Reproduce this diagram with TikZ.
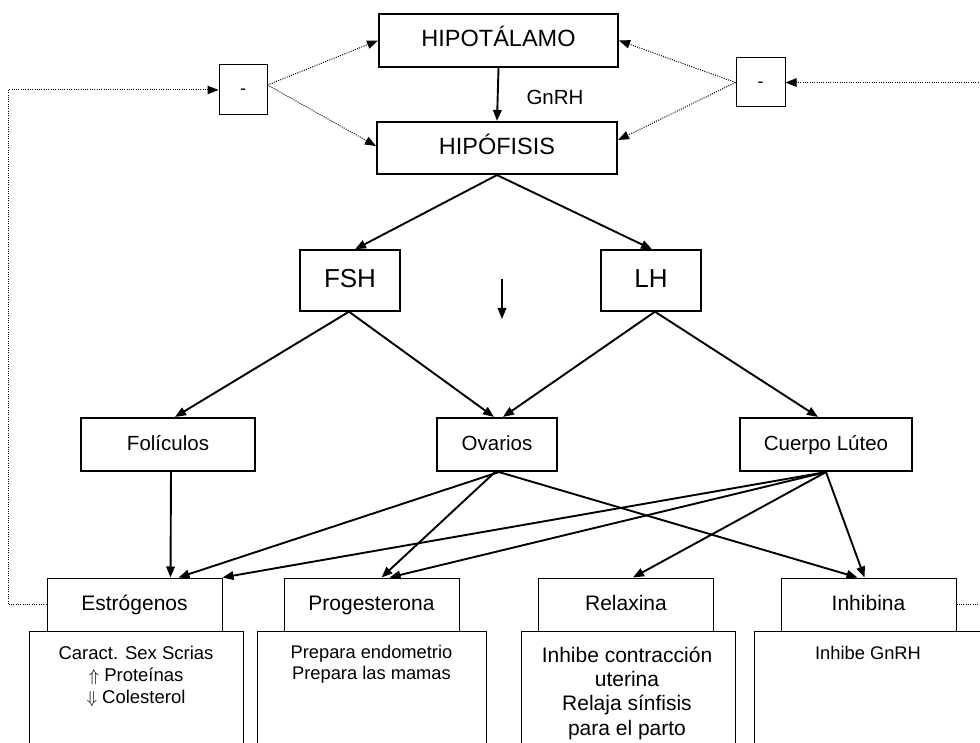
\documentclass[tikz,border=0pt]{standalone}
\usepackage{fontspec}
\setmainfont{Liberation Sans}
\usetikzlibrary{arrows.meta,calc}

\begin{document}
\begin{tikzpicture}[x=1pt,y=-1pt,
  sized/.style={font=\fontsize{#1}{#1}\selectfont,
    text height=0.75*#1pt, text depth=0.2*#1pt},
  organ/.style={draw, line width=2.1pt, inner sep=0pt, fill=white},
  hormbox/.style={draw, line width=1.4pt, inner sep=0pt, fill=white,
    minimum width=100pt, minimum height=61pt, sized=26},
  minusbox/.style={draw, line width=1pt, inner sep=0pt, fill=white, sized=18},
  outbox/.style={draw, line width=1pt, inner sep=0pt, fill=white,
    minimum width=175pt, minimum height=53pt, sized=21},
  fxbox/.style={draw, line width=1pt, inner sep=0pt, minimum height=140pt},
  fxtext/.style={inner sep=0pt, anchor=north, align=center},
  link/.style={line width=1.9pt, -{Triangle[length=11pt,width=8.5pt]}},
  fb/.style={line width=1pt, dash pattern=on 1pt off 1.3pt,
    -{Triangle[length=11pt,width=8.5pt]}},
  fbline/.style={line width=1pt, dash pattern=on 1pt off 1.3pt}
]
\useasboundingbox (0,0) rectangle (980,743);
\clip (0,0) rectangle (980,743);

% ---- axis: hypothalamus / pituitary
\node[organ, minimum width=239pt, minimum height=53pt, sized=23.5]
  (hipot) at (498.5,40.5) {HIPOTÁLAMO};
\node[organ, minimum width=240pt, minimum height=52pt, sized=23.5]
  (hipof) at (497,148) {HIPÓFISIS};
\node[sized=20.5, inner sep=0pt] (gnrh) at (555,99) {GnRH};

% ---- negative feedback boxes
\node[minusbox, minimum width=48pt, minimum height=50pt] (minusL) at (243,90) {-};
\node[minusbox, minimum width=49pt, minimum height=49pt] (minusR) at (760.5,82.5) {-};

% ---- gonadotropins
\node[hormbox] (fsh) at (350,280.5) {FSH};
\node[hormbox] (lh) at (651,280.5) {LH};

% ---- targets
\node[organ, minimum width=174pt, minimum height=53pt, sized=20.5]
  (foli) at (168,444.5) {Folículos};
\node[organ, minimum width=120pt, minimum height=53pt, sized=20.5]
  (ovar) at (497,444.5) {Ovarios};
\node[organ, minimum width=172pt, minimum height=53pt, sized=20.5]
  (cuer) at (826,444.5) {Cuerpo Lúteo};

% ---- effect panels (drawn first, titles sit on top)
\node[fxbox, minimum width=214pt] (estrfx) at (136,701) {};
\node[fxbox, minimum width=229pt] (progfx) at (371.5,701) {};
\node[fxbox, minimum width=214pt] (relafx) at (628,701) {};
\node[fxbox, minimum width=256pt] (inhifx) at (882,701) {};

\node[fxtext, font=\fontsize{18.5}{22.4}\selectfont] (estrtx) at (136,645.5)
  {Caract. Sex Scrias\\$\Uparrow$ Proteínas\\$\Downarrow$ Colesterol};
\node[fxtext, font=\fontsize{18.3}{20.7}\selectfont] (progtx) at (371.5,645.5)
  {Prepara endometrio\\Prepara las mamas};
\node[fxtext, font=\fontsize{21}{24.4}\selectfont] (relatx) at (627,646.5)
  {Inhibe contracción\\uterina\\Relaja sínfisis\\para el parto};
\node[fxtext, font=\fontsize{18.3}{22}\selectfont] (inhitx) at (868,646)
  {Inhibe GnRH};

% ---- hormones
\node[outbox] (estr) at (134.5,604.5) {Estrógenos};
\node[outbox] (prog) at (371.5,604.5) {Progesterona};
\node[outbox] (rela) at (626,604.5) {Relaxina};
\node[outbox] (inhi) at (868.5,604.5) {Inhibina};

% ---- solid connectors
\draw[link] (hipot.south) -- (hipof.north);
\draw[link] (hipof.south) -- ($(fsh.north)+(5,0)$);
\draw[link] (hipof.south) -- ($(lh.north)+(1,0)$);
\coordinate (dn1) at (502,279);
\coordinate (dn2) at (502,319);
\draw[link] (dn1) -- (dn2);
\draw[link] ($(fsh.south)+(-1,0)$) -- ($(foli.north)+(7,0)$);
\draw[link] ($(fsh.south)+(-1,0)$) -- ($(ovar.north)+(-3,0)$);
\draw[link] ($(lh.south)+(4,0)$) -- ($(ovar.north)+(6,0)$);
\draw[link] ($(lh.south)+(4,0)$) -- ($(cuer.north)+(-8,0)$);
\draw[link] ($(foli.south)+(3,0)$) -- ($(estr.north)+(36,0)$);
\draw[link] ($(ovar.south)+(2,0)$) -- ($(estr.north)+(44,0)$);
\draw[link] ($(ovar.south)+(-2,0)$) -- ($(prog.north)+(10,0)$);
\draw[link] ($(ovar.south)+(2,0)$) -- ($(inhi.north)+(-11,0)$);
\draw[link] (cuer.south) -- (estr.north east);
\draw[link] (cuer.south) -- ($(prog.north)+(18,0)$);
\draw[link] (cuer.south) -- ($(rela.north)+(7,0)$);
\draw[link] (cuer.south) -- ($(inhi.north)+(-4,0)$);

% ---- dotted feedback loops
\coordinate (lc1) at (8,604.5);
\coordinate (lc2) at (8,90);
\draw[fb] (estr.west) -- (lc1) -- (lc2) -- (minusL.west);
\draw[fb] ($(minusL.east)+(0,-5)$) -- (hipot.west);
\draw[fb] ($(minusL.east)+(0,-5)$) -- ($(hipof.west)+(0,-2)$);
\coordinate (rc0) at (990,82.5);
\draw[fb] (rc0) -- (minusR.east);
\draw[fb] (minusR.west) -- (hipot.east);
\draw[fb] (minusR.west) -- ($(hipof.east)+(0,-8)$);
\coordinate (rc1) at (990,604.5);
\draw[fbline] (inhi.east) -- (rc1);
\end{tikzpicture}
\end{document}
